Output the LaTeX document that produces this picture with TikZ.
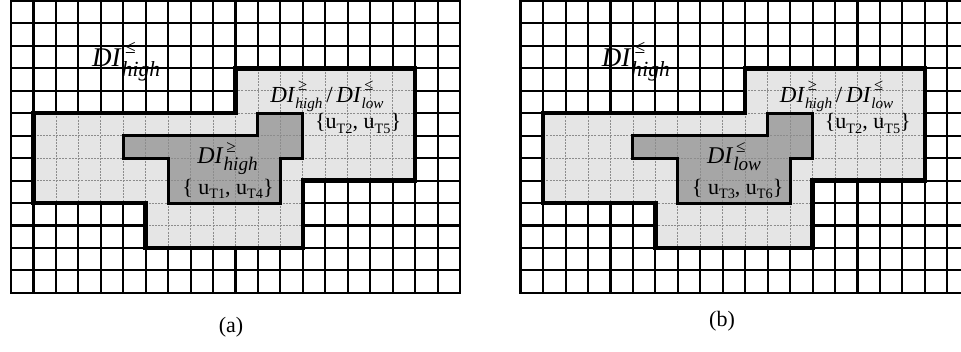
\documentclass[tikz,border=0pt]{standalone}
\usepackage{fontspec}
\setmainfont{Liberation Serif}
\usepackage{graphicx}
\usepackage{tikz}
% DI with stacked super- and subscript
\newcommand{\dil}[4][0.8]{\textit{DI}\makebox[0pt][l]{\kern0.12em\raisebox{0.48em}{\scalebox{0.72}{#2}}}\raisebox{-#4em}{\scalebox{#1}{\textit{#3}}}}
\newcommand{\ut}[1]{u\raisebox{-0.22em}{\scalebox{0.65}{T#1}}}
\def\lightpath{(1,5) -- (10,5) -- (10,3) -- (18,3) -- (18,8) -- (13,8) -- (13,11) -- (6,11) -- (6,9) -- (1,9) -- cycle}
\def\darkpath{(5,6) -- (11,6) -- (11,5) -- (13,5) -- (13,7) -- (12,7) -- (12,9) -- (7,9) -- (7,7) -- (5,7) -- cycle}

\begin{document}
\begin{tikzpicture}[x=1pt,y=-1pt,
   cellline/.style={black,line width=2.1pt},
   innerline/.style={black!45,line width=0.8pt,dash pattern=on 2pt off 1.2pt},
   lightzone/.style={fill=black!10},
   darkzone/.style={fill=black!35},
   rim/.style={black,line width=#1,line join=miter},
   tag/.style={anchor=base west,inner sep=0pt}]
  \useasboundingbox (0,0) rectangle (961,352);
  \clip (0,0) rectangle (961,352);
  \foreach \p/\ox/\dsup/\dsub/\ua/\ub in {a/11/{≥}/{high}/1/4, b/520.7/{≤}/{low}/3/6}{
    \begin{scope}[xshift=\ox pt,yshift=-1pt,x=22.45pt,y=-22.45pt]
      % plain grid
      \foreach \i in {0,...,20} \draw[cellline] (\i,0) -- (\i,13);
      \foreach \j in {0,...,13} \draw[cellline] (0,\j) -- (20,\j);
      \draw[black,line width=2.6pt] (0,0) rectangle (20,13);
      % zones
      \fill[lightzone] \lightpath;
      \fill[darkzone] \darkpath;
      \begin{scope}
        \clip \lightpath;
        \foreach \i in {1,...,18} \draw[innerline] (\i,3) -- (\i,11);
        \foreach \j in {3,...,11} \draw[innerline] (1,\j) -- (18,\j);
      \end{scope}
      \draw[rim=4.5pt] \lightpath;
      \draw[rim=3pt] \darkpath;
      % labels
      \node[tag,font=\fontsize{27}{30}\selectfont] (high-\p) at (3.61,2.90) {\dil{≤}{high}{0.4}};
      \node[tag,font=\fontsize{23}{26}\selectfont] (mix-\p) at (11.54,4.50) {\dil[0.66]{≥}{high}{0.3}\,/\,\dil[0.66]{≤}{low}{0.3}};
      \node[tag,font=\fontsize{22}{25}\selectfont] (mixset-\p) at (13.54,5.70) {\{\ut{2}, \ut{5}\}};
      \node[tag,font=\fontsize{24}{27}\selectfont] (core-\p) at (8.29,7.25) {\dil{\dsup}{\dsub}{0.3}};
      \node[tag,font=\fontsize{22}{25}\selectfont] (coreset-\p) at (7.62,8.60) {\{ \ut{\ua}, \ut{\ub}\}};
    \end{scope}
  }
  \node[font=\fontsize{22}{24}\selectfont] (cap-a) at (231,327) {(a)};
  \node[font=\fontsize{22}{24}\selectfont] (cap-b) at (722,321) {(b)};
\end{tikzpicture}
\end{document}
